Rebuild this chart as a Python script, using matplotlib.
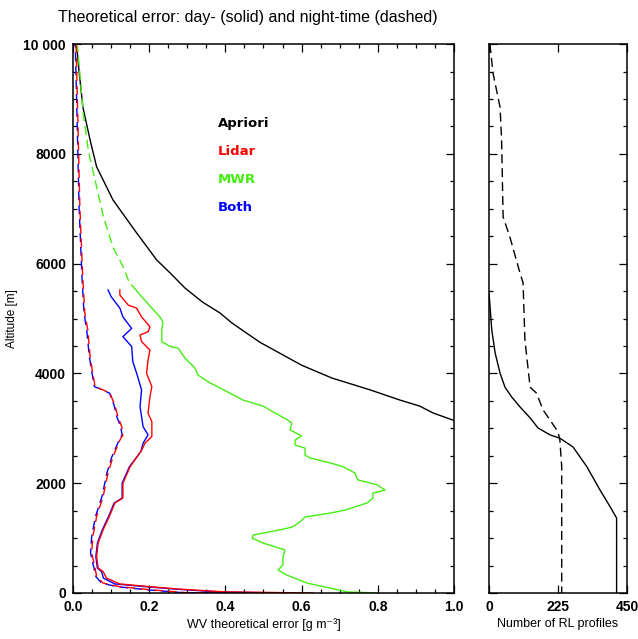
import matplotlib

matplotlib.use("Agg")
import matplotlib.pyplot as plt
from matplotlib.ticker import MultipleLocator

# ---------------------------------------------------------------------------
# Theoretical water-vapour error profiles (g m^-3) vs altitude (m)
# ---------------------------------------------------------------------------
apriori_alt = [10000, 9950, 9500, 8850, 8250, 7765, 7160, 6560, 6065, 5830, 5555, 5300,
               5100, 4920, 4570, 4150, 3915, 3700, 3515, 3405, 3280, 3150, 3000]
apriori_err = [0.003, 0.01, 0.016, 0.026, 0.045, 0.062, 0.105, 0.167, 0.22, 0.255, 0.294,
               0.34, 0.386, 0.417, 0.49, 0.60, 0.68, 0.78, 0.858, 0.91, 0.945, 0.997, 1.05]

# MWR, night-time (dashed) -- below ~5600 m it sits on top of the day curve
mwr_night_alt = [10000, 9950, 9300, 8740, 8070, 7520, 6850, 6300, 5940, 5650]
mwr_night_err = [0.005, 0.012, 0.02, 0.027, 0.04, 0.058, 0.08, 0.105, 0.132, 0.148]

mwr_day_alt = [5610, 5400, 5190, 5030, 4940, 4790, 4580, 4490, 4460, 4280, 4100, 3970,
               3825, 3735, 3640, 3515, 3405, 3300, 3150, 3095, 2970, 2860, 2785, 2695,
               2640, 2515, 2460, 2370, 2300, 2185, 2060, 1970, 1875, 1820, 1730, 1640,
               1510, 1455, 1385, 1295, 1200, 1150, 1055, 1000, 910, 785, 640, 510, 420,
               330, 180, 90, 20, 0]
mwr_day_err = [0.154, 0.18, 0.207, 0.228, 0.236, 0.233, 0.233, 0.255, 0.276, 0.294, 0.32,
               0.328, 0.36, 0.386, 0.412, 0.446, 0.499, 0.525, 0.564, 0.574, 0.57, 0.60,
               0.583, 0.583, 0.609, 0.609, 0.622, 0.675, 0.709, 0.74, 0.748, 0.798, 0.819,
               0.787, 0.787, 0.772, 0.714, 0.675, 0.609, 0.596, 0.575, 0.543, 0.473, 0.47,
               0.499, 0.556, 0.551, 0.551, 0.538, 0.56, 0.614, 0.675, 0.72, 0.80]

lidar_day_alt = [5520, 5430, 5245, 5190, 5030, 4850, 4760, 4700, 4580, 4425, 4245, 4005,
                 3760, 3575, 3275, 3120, 2850, 2730, 2600, 2300, 2000, 1730, 1640, 1420,
                 1150, 910, 660, 455, 390, 270, 165, 115, 70, 20, 0]
lidar_day_err = [0.123, 0.123, 0.145, 0.167, 0.18, 0.202, 0.197, 0.176, 0.18, 0.202, 0.197,
                 0.193, 0.207, 0.202, 0.197, 0.207, 0.207, 0.189, 0.18, 0.15, 0.131, 0.131,
                 0.11, 0.097, 0.079, 0.066, 0.062, 0.066, 0.079, 0.088, 0.123, 0.202, 0.28,
                 0.40, 0.63]

both_day_alt = [5520, 5400, 5190, 5030, 4820, 4670, 4490, 4215, 4005, 3700, 3395, 3030,
                2880, 2730, 2575, 2300, 2000, 1730, 1640, 1420, 1150, 910, 660, 455, 390,
                270, 165, 115, 70, 20, 0]
both_day_err = [0.092, 0.1, 0.123, 0.131, 0.154, 0.131, 0.154, 0.157, 0.167, 0.18, 0.176,
                0.184, 0.197, 0.184, 0.178, 0.148, 0.129, 0.129, 0.108, 0.095, 0.077, 0.064,
                0.06, 0.064, 0.075, 0.08, 0.11, 0.19, 0.27, 0.38, 0.55]

lidar_night_alt = [10000, 8560, 7030, 5700, 5100, 4790, 4300, 4005, 3760, 3700, 3640,
                   3420, 3210, 3030, 2880, 2785, 2480, 2185, 1755, 1390, 1025, 730, 455,
                   300, 180, 115, 55, 5, 0]
lidar_night_err = [0.008, 0.013, 0.018, 0.026, 0.031, 0.039, 0.045, 0.052, 0.058, 0.079,
                   0.097, 0.11, 0.118, 0.128, 0.131, 0.123, 0.105, 0.092, 0.079, 0.062,
                   0.052, 0.049, 0.058, 0.062, 0.079, 0.123, 0.21, 0.30, 0.50]

both_night_alt = [10000, 8560, 7030, 5700, 5100, 4790, 4300, 4005, 3760, 3700, 3640,
                  3420, 3210, 3030, 2880, 2785, 2480, 2185, 1755, 1390, 1025, 730, 455,
                  300, 180, 115, 55, 5, 0]
both_night_err = [0.006, 0.011, 0.016, 0.024, 0.029, 0.036, 0.043, 0.05, 0.056, 0.078,
                  0.096, 0.108, 0.115, 0.125, 0.129, 0.121, 0.102, 0.089, 0.076, 0.059,
                  0.049, 0.046, 0.055, 0.06, 0.075, 0.115, 0.2, 0.29, 0.46]

# Number of Raman-lidar profiles available at each altitude
rl_day_alt = [5460, 4790, 4370, 4005, 3750, 3570, 3390, 3190, 3005, 2880, 2820, 2660,
              2300, 1875, 1570, 1365, 0]
rl_day_n = [0, 9, 20, 36, 52, 74, 101, 134, 160, 199, 231, 274, 319, 362, 395, 416, 416]

rl_night_alt = [10000, 9470, 8850, 8250, 6850, 6485, 5830, 5650, 4610, 3750, 3640, 3335,
                3150, 2935, 2785, 2300, 0]
rl_night_n = [3, 13, 36, 41, 46, 68, 101, 111, 117, 134, 155, 176, 199, 225, 231, 237, 237]

GREEN = "#44ee11"
DASH = (0, (6.5, 3.5))
LW = 1.0
FONTS = ["Liberation Sans", "DejaVu Sans"]

fig = plt.figure(figsize=(6.38, 6.39), dpi=100)
ax = fig.add_axes([0.1144, 0.072, 0.5972, 0.859])
ax2 = fig.add_axes([0.7665, 0.072, 0.2163, 0.859])

ax.plot(apriori_err, apriori_alt, color="black", lw=LW)
ax.plot(mwr_night_err, mwr_night_alt, color=GREEN, lw=LW, ls=DASH)
ax.plot(mwr_day_err, mwr_day_alt, color=GREEN, lw=LW)
ax.plot(both_night_err, both_night_alt, color="blue", lw=LW, ls=(4, (6.5, 3.5)))
ax.plot(lidar_night_err, lidar_night_alt, color="red", lw=LW, ls=DASH)
ax.plot(both_day_err, both_day_alt, color="blue", lw=LW)
ax.plot(lidar_day_err, lidar_day_alt, color="red", lw=LW)

ax.set_xlim(0, 1.0)
ax.set_ylim(0, 10000)
ax.xaxis.set_minor_locator(MultipleLocator(0.05))
ax.yaxis.set_minor_locator(MultipleLocator(500))
ax.set_yticks([0, 2000, 4000, 6000, 8000, 10000])
ax.set_yticklabels(["0", "2000", "4000", "6000", "8000", "10 000"])
ax.set_xticks([0, 0.2, 0.4, 0.6, 0.8, 1.0])
ax.set_xticklabels(["0.0", "0.2", "0.4", "0.6", "0.8", "1.0"])

ax2.plot(rl_night_n, rl_night_alt, color="black", lw=LW, ls=DASH)
ax2.plot(rl_day_n, rl_day_alt, color="black", lw=LW)
ax2.set_xlim(0, 450)
ax2.set_ylim(0, 10000)
ax2.yaxis.set_major_locator(MultipleLocator(2000))
ax2.yaxis.set_minor_locator(MultipleLocator(500))
ax2.set_yticklabels([])
ax2.set_xticks([0, 225, 450])
ax2.set_xticklabels(["0", "225", "450"])

for a in (ax, ax2):
    for s in a.spines.values():
        s.set_linewidth(1.1)
    a.tick_params(which="both", direction="in", top=True, right=True, width=0.9)
    a.tick_params(which="major", length=6)
    a.tick_params(which="minor", length=3)
    a.tick_params(axis="both", labelsize=10, pad=5)
    for lab in a.get_xticklabels() + a.get_yticklabels():
        lab.set_fontweight("bold")
        lab.set_family("Liberation Sans")
ax2.tick_params(axis="x", which="minor", top=False, bottom=False)

ax.set_xlabel("WV theoretical error [g m\u207b\u00b3]", fontsize=9, family=FONTS,
              labelpad=3)
ax.set_ylabel("Altitude [m]", fontsize=8.5, family=FONTS, labelpad=4)
ax2.set_xlabel("Number of RL profiles", fontsize=9, family=FONTS, labelpad=3)

# in-panel key
for i, (txt, col) in enumerate([("Apriori", "black"), ("Lidar", "red"),
                                ("MWR", GREEN), ("Both", "blue")]):
    ax.text(0.38, 0.855 - i * 0.051, txt, color=col, fontsize=9.5, fontweight="bold",
            transform=ax.transAxes, va="center", ha="left")

fig.text(0.389, 0.972, "Theoretical error: day- (solid) and night-time (dashed)",
         ha="center", va="center", fontsize=11.5, family=FONTS)

fig.savefig("out.png", dpi=100)
